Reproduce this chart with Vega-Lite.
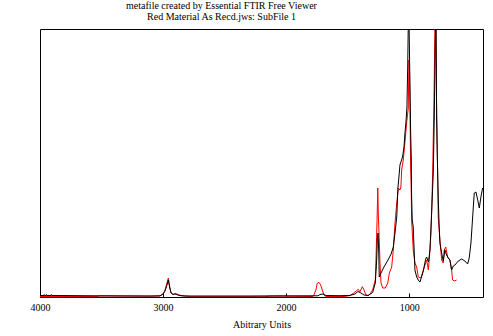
{
  "$schema": "https://vega.github.io/schema/vega-lite/v6.json",
  "width": 443,
  "height": 268,
  "autosize": "none",
  "padding": {"left": 40, "top": 29, "right": 10, "bottom": 39},
  "background": "white",
  "title": {
    "text": ["metafile created by Essential FTIR Free Viewer", "Red Material As Recd.jws: SubFile 1"],
    "font": "Liberation Serif",
    "fontSize": 10,
    "fontWeight": "normal",
    "color": "black",
    "anchor": "middle",
    "dx": -40,
    "offset": 7,
    "lineHeight": 11.5
  },
  "datasets": {
    "red": [
      {"wn": 4000, "v": 0.5}, {"wn": 3537, "v": 0.5}, {"wn": 3512, "v": 1.0}, {"wn": 3106, "v": 0.8},
      {"wn": 3025, "v": 1}, {"wn": 3000, "v": 3}, {"wn": 2984, "v": 7}, {"wn": 2968, "v": 14},
      {"wn": 2957, "v": 19}, {"wn": 2947, "v": 11}, {"wn": 2935, "v": 4}, {"wn": 2919, "v": 2.5},
      {"wn": 2903, "v": 3.5}, {"wn": 2879, "v": 2.5}, {"wn": 2846, "v": 1.2}, {"wn": 2797, "v": 0.8},
      {"wn": 2781, "v": 0.3}, {"wn": 2172, "v": 0.3}, {"wn": 2131, "v": 0.8}, {"wn": 2009, "v": 0.8},
      {"wn": 1985, "v": 0.3}, {"wn": 1782, "v": 0.5}, {"wn": 1774, "v": 2}, {"wn": 1758, "v": 7},
      {"wn": 1747, "v": 13.7}, {"wn": 1733, "v": 14.7}, {"wn": 1719, "v": 12}, {"wn": 1706, "v": 7},
      {"wn": 1692, "v": 2}, {"wn": 1676, "v": 0.5}, {"wn": 1522, "v": 0.5}, {"wn": 1481, "v": 1.5},
      {"wn": 1454, "v": 3.7}, {"wn": 1427, "v": 6.3}, {"wn": 1414, "v": 7.7}, {"wn": 1400, "v": 5.3},
      {"wn": 1381, "v": 10.3}, {"wn": 1367, "v": 7}, {"wn": 1351, "v": 2}, {"wn": 1327, "v": 1.5},
      {"wn": 1297, "v": 7}, {"wn": 1275, "v": 17}, {"wn": 1268, "v": 45}, {"wn": 1261, "v": 77},
      {"wn": 1255, "v": 109}, {"wn": 1250, "v": 80}, {"wn": 1247, "v": 70}, {"wn": 1243, "v": 57},
      {"wn": 1237, "v": 34}, {"wn": 1229, "v": 14}, {"wn": 1215, "v": 9}, {"wn": 1194, "v": 9},
      {"wn": 1174, "v": 14}, {"wn": 1161, "v": 24}, {"wn": 1142, "v": 30}, {"wn": 1129, "v": 47},
      {"wn": 1115, "v": 74}, {"wn": 1101, "v": 94}, {"wn": 1088, "v": 109}, {"wn": 1075, "v": 107},
      {"wn": 1067, "v": 110}, {"wn": 1061, "v": 127}, {"wn": 1048, "v": 137}, {"wn": 1034, "v": 155},
      {"wn": 1020, "v": 175}, {"wn": 1007, "v": 189}, {"wn": 1002, "v": 237}, {"wn": 997, "v": 225},
      {"wn": 993, "v": 185}, {"wn": 988, "v": 130}, {"wn": 983, "v": 104}, {"wn": 980, "v": 77},
      {"wn": 967, "v": 47}, {"wn": 953, "v": 34}, {"wn": 939, "v": 30}, {"wn": 926, "v": 20},
      {"wn": 904, "v": 19}, {"wn": 885, "v": 27}, {"wn": 858, "v": 37}, {"wn": 844, "v": 27},
      {"wn": 831, "v": 47}, {"wn": 823, "v": 64}, {"wn": 817, "v": 87}, {"wn": 809, "v": 124},
      {"wn": 798, "v": 200}, {"wn": 790, "v": 275}, {"wn": 785, "v": 275}, {"wn": 778, "v": 200},
      {"wn": 768, "v": 120}, {"wn": 764, "v": 80}, {"wn": 750, "v": 57}, {"wn": 736, "v": 37},
      {"wn": 723, "v": 34}, {"wn": 715, "v": 47}, {"wn": 703, "v": 50}, {"wn": 687, "v": 40},
      {"wn": 669, "v": 37}, {"wn": 655, "v": 27}, {"wn": 647, "v": 17}, {"wn": 634, "v": 16},
      {"wn": 614, "v": 17}
    ],
    "black": [
      {"wn": 4000, "v": 1.5}, {"wn": 3968, "v": 1.5}, {"wn": 3966, "v": 2.5}, {"wn": 3963, "v": 1.5},
      {"wn": 3949, "v": 1.5}, {"wn": 3947, "v": 2.5}, {"wn": 3944, "v": 1.5}, {"wn": 3910, "v": 1.5},
      {"wn": 3908, "v": 2.5}, {"wn": 3905, "v": 1.5}, {"wn": 3512, "v": 1.2}, {"wn": 3106, "v": 1},
      {"wn": 3025, "v": 1.2}, {"wn": 3000, "v": 3}, {"wn": 2984, "v": 6}, {"wn": 2968, "v": 12},
      {"wn": 2957, "v": 17}, {"wn": 2947, "v": 10}, {"wn": 2935, "v": 4}, {"wn": 2919, "v": 2.5},
      {"wn": 2903, "v": 3}, {"wn": 2887, "v": 2.5}, {"wn": 2870, "v": 1.5}, {"wn": 2822, "v": 1},
      {"wn": 2294, "v": 1}, {"wn": 1968, "v": 1.2}, {"wn": 1741, "v": 1.2}, {"wn": 1725, "v": 2.5},
      {"wn": 1700, "v": 3}, {"wn": 1676, "v": 1.5}, {"wn": 1562, "v": 1.3}, {"wn": 1481, "v": 1.6},
      {"wn": 1440, "v": 3}, {"wn": 1416, "v": 5.5}, {"wn": 1392, "v": 4}, {"wn": 1367, "v": 2},
      {"wn": 1335, "v": 1.5}, {"wn": 1297, "v": 4.5}, {"wn": 1275, "v": 14}, {"wn": 1264, "v": 37},
      {"wn": 1259, "v": 57}, {"wn": 1253, "v": 64}, {"wn": 1247, "v": 44}, {"wn": 1243, "v": 20},
      {"wn": 1229, "v": 24}, {"wn": 1205, "v": 30}, {"wn": 1172, "v": 37}, {"wn": 1147, "v": 43},
      {"wn": 1129, "v": 50}, {"wn": 1115, "v": 64}, {"wn": 1101, "v": 80}, {"wn": 1091, "v": 110},
      {"wn": 1083, "v": 120}, {"wn": 1075, "v": 132}, {"wn": 1062, "v": 137}, {"wn": 1054, "v": 140},
      {"wn": 1042, "v": 150}, {"wn": 1034, "v": 164}, {"wn": 1026, "v": 175}, {"wn": 1018, "v": 190},
      {"wn": 1012, "v": 230}, {"wn": 1007, "v": 275}, {"wn": 1001, "v": 275}, {"wn": 997, "v": 240},
      {"wn": 993, "v": 207}, {"wn": 988, "v": 165}, {"wn": 983, "v": 140}, {"wn": 980, "v": 100},
      {"wn": 975, "v": 77}, {"wn": 967, "v": 70}, {"wn": 953, "v": 27}, {"wn": 939, "v": 20},
      {"wn": 926, "v": 17}, {"wn": 912, "v": 15}, {"wn": 885, "v": 26}, {"wn": 866, "v": 38},
      {"wn": 858, "v": 40}, {"wn": 843, "v": 35}, {"wn": 831, "v": 47}, {"wn": 817, "v": 85},
      {"wn": 804, "v": 125}, {"wn": 796, "v": 180}, {"wn": 790, "v": 234}, {"wn": 786, "v": 275},
      {"wn": 781, "v": 275}, {"wn": 777, "v": 180}, {"wn": 772, "v": 144}, {"wn": 764, "v": 100},
      {"wn": 756, "v": 70}, {"wn": 750, "v": 54}, {"wn": 736, "v": 44}, {"wn": 723, "v": 36},
      {"wn": 710, "v": 47}, {"wn": 696, "v": 42}, {"wn": 683, "v": 39}, {"wn": 669, "v": 37},
      {"wn": 655, "v": 27}, {"wn": 642, "v": 31}, {"wn": 628, "v": 32}, {"wn": 601, "v": 36},
      {"wn": 574, "v": 38}, {"wn": 547, "v": 36}, {"wn": 525, "v": 33}, {"wn": 512, "v": 39},
      {"wn": 498, "v": 54}, {"wn": 484, "v": 80}, {"wn": 471, "v": 104}, {"wn": 457, "v": 105},
      {"wn": 443, "v": 97}, {"wn": 430, "v": 89}, {"wn": 417, "v": 100}, {"wn": 403, "v": 109}
    ]
  },
  "encoding": {
    "x": {
      "field": "wn",
      "type": "quantitative",
      "scale": {"domain": [4000, 400], "nice": false, "zero": false},
      "axis": {
        "values": [4000, 3000, 2000, 1000],
        "format": "d",
        "title": "Abitrary Units",
        "titleFont": "Liberation Serif",
        "titleFontSize": 10,
        "titleFontWeight": "normal",
        "titleColor": "black",
        "titlePadding": 7,
        "labelFont": "Liberation Serif",
        "labelFontSize": 10,
        "labelColor": "black",
        "labelPadding": 9,
        "labelFlush": false,
        "grid": false,
        "domain": false,
        "tickColor": "black",
        "tickSize": -4,
        "labelOverlap": false
      }
    },
    "y": {
      "field": "v",
      "type": "quantitative",
      "scale": {"domain": [0, 268], "nice": false, "zero": false},
      "axis": null
    }
  },
  "layer": [
    {"data": {"name": "red"}, "mark": {"type": "line", "color": "#ff0000", "strokeWidth": 1, "clip": true}},
    {"data": {"name": "black"}, "mark": {"type": "line", "color": "#000000", "strokeWidth": 1, "clip": true}}
  ],
  "config": {
    "view": {"stroke": "black", "strokeWidth": 1},
    "font": "Liberation Serif"
  }
}
